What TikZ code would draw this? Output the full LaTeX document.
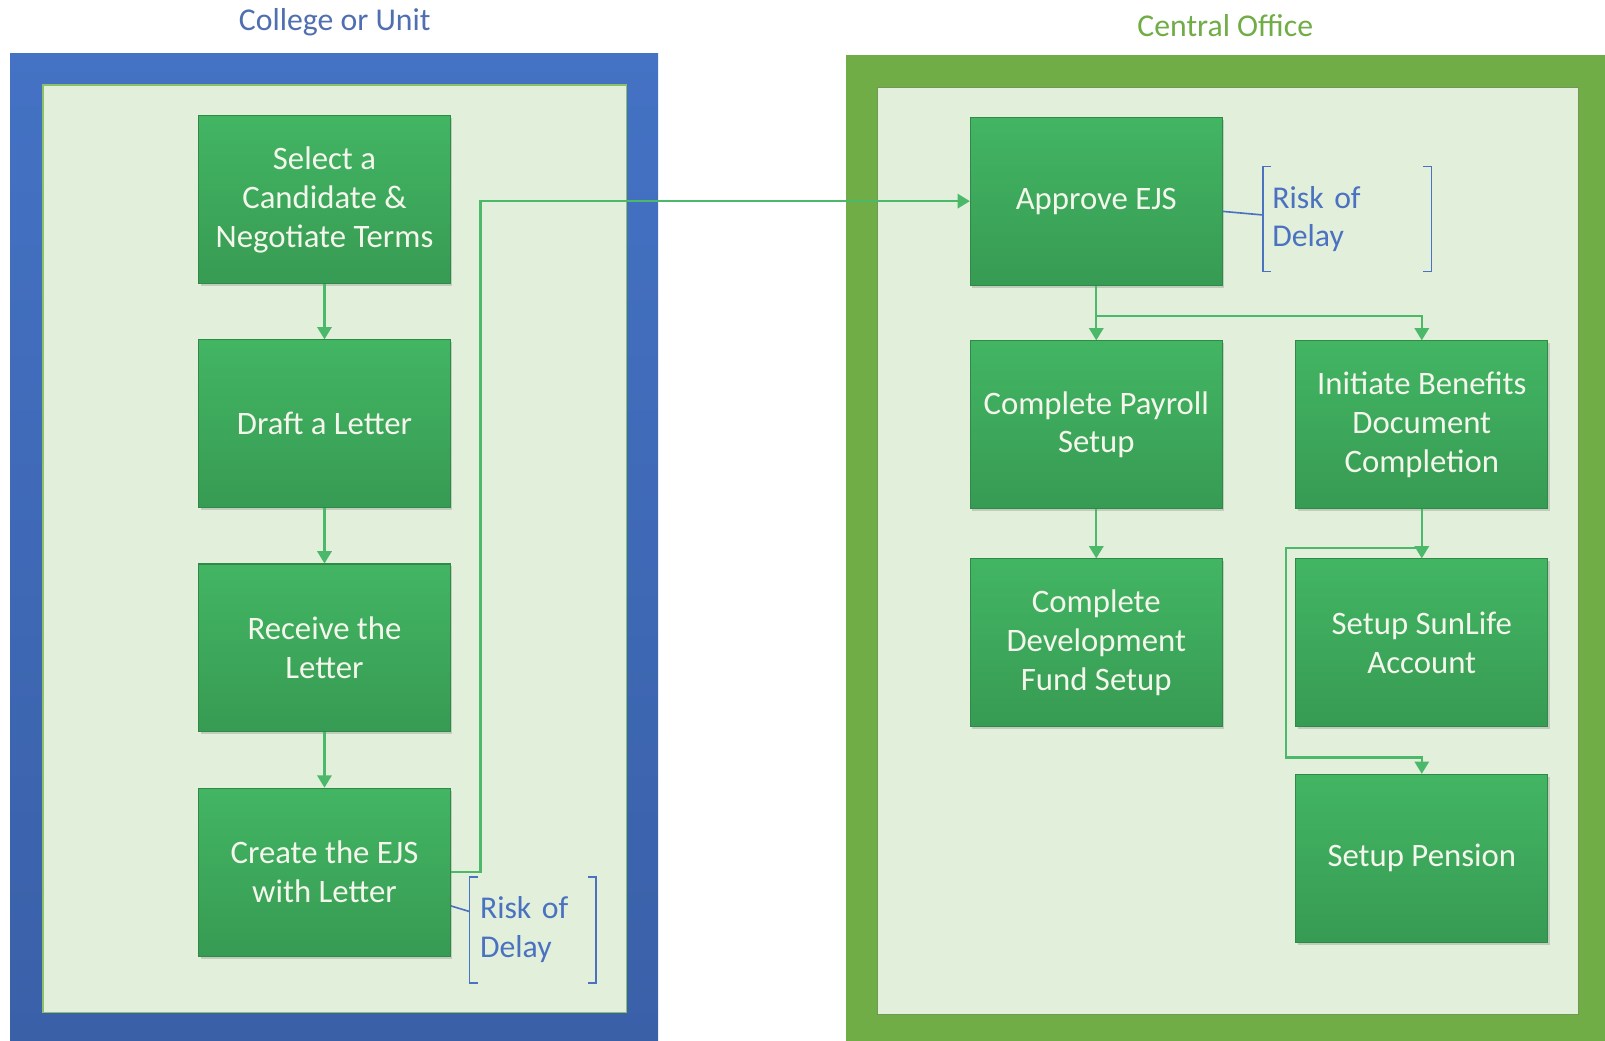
\documentclass[tikz,border=0pt]{standalone}
\usepackage{fontspec}
\setmainfont{Carlito}
\usetikzlibrary{arrows.meta,shadows}
\definecolor{frameblueT}{HTML}{4472C4}
\definecolor{frameblueB}{HTML}{3A60A8}
\definecolor{framegreen}{HTML}{70AD47}
\definecolor{innerbg}{HTML}{E2EFDA}
\definecolor{innerline}{HTML}{8CC168}
\definecolor{boxlight}{HTML}{42B563}
\definecolor{boxdark}{HTML}{379B53}
\definecolor{boxedge}{HTML}{2F8A48}
\definecolor{linegreen}{HTML}{4CB96A}
\definecolor{riskblue}{HTML}{4A72C0}
\definecolor{titleblue}{HTML}{4F6FB0}
\definecolor{boxtext}{HTML}{F4F6EC}
\begin{document}
\begin{tikzpicture}[x=0.5pt,y=-0.5pt,
  stepbox/.style={rectangle, minimum width=123pt, minimum height=82pt, inner sep=0pt,
    align=center, text=boxtext, font=\fontsize{16}{19}\selectfont,
    top color=boxlight, bottom color=boxdark, draw=boxedge, line width=0.5pt,
    drop shadow={shadow xshift=1pt, shadow yshift=-1.2pt, opacity=0.25, fill=black!60}},
  flow/.style={draw=linegreen, line width=1.1pt, -{Triangle[width=7pt,length=6pt]}},
  bracketline/.style={draw=riskblue, line width=0.8pt},
  riskbox/.style={rectangle, inner sep=0pt, align=left, text=riskblue,
    font=\fontsize{15.5}{19}\selectfont},
  title/.style={font=\fontsize{15.5}{18}\selectfont}
]
\useasboundingbox (0,0) rectangle (1568,1017);
\fill[white] (0,0) rectangle (1568,1017);

% frames
\fill[top color=frameblueT, bottom color=frameblueB] (10,52) rectangle (643,1017);
\filldraw[fill=innerbg, draw=innerline, line width=0.6pt] (42,83) rectangle (612,989);
\fill[framegreen] (826,54) rectangle (1568,1017);
\filldraw[fill=innerbg, draw=innerline!80!black, line width=0.4pt] (857,85) rectangle (1542,991);

% titles
\node[title, text=titleblue] (t1) at (327,22) {College or Unit};
\node[title, text=framegreen] (t2) at (1197,25) {Central Office};

% left column
\node[stepbox] (b1) at (317,195) {Select a\\Candidate \&\\Negotiate Terms};
\node[stepbox] (b2) at (317,414) {Draft a Letter};
\node[stepbox] (b3) at (317,633) {Receive the\\Letter};
\node[stepbox] (b4) at (317,852) {Create the EJS\\with Letter};

% right column
\node[stepbox] (approve) at (1071,196.5) {Approve EJS};
\node[stepbox] (payroll) at (1071,415) {Complete Payroll\\Setup};
\node[stepbox] (initiate) at (1389,415) {Initiate Benefits\\Document\\Completion};
\node[stepbox] (devfund) at (1071,628) {Complete\\Development\\Fund Setup};
\node[stepbox] (sunlife) at (1389,628) {Setup SunLife\\Account};
\node[stepbox] (pension) at (1389,838.5) {Setup Pension};

% risk notes
\node[riskbox, minimum width=61.5pt, minimum height=51.5pt, text width=51.5pt, inner xsep=5pt] (risk1) at (520.5,908.5) {Risk of\\Delay};
\node[riskbox, minimum width=82pt, minimum height=51pt, text width=73pt, inner xsep=4.5pt] (risk2) at (1316,214) {Risk of\\Delay};

\draw[bracketline] ([xshift=4pt]risk1.north west) -- (risk1.north west) -- (risk1.south west) -- ++(4pt,0);
\draw[bracketline] ([xshift=-4pt]risk1.north east) -- (risk1.north east) -- (risk1.south east) -- ++(-4pt,0);
\draw[bracketline] ([xshift=4pt]risk2.north west) -- (risk2.north west) -- (risk2.south west) -- ++(4pt,0);
\draw[bracketline] ([xshift=-4pt]risk2.north east) -- (risk2.north east) -- (risk2.south east) -- ++(-4pt,0);
\draw[bracketline] ([yshift=-16.5pt]b4.east) -- ([yshift=9pt]risk1.west);
\draw[bracketline] ([yshift=-5pt]approve.east) -- ([yshift=2pt]risk2.west);

% connectors
\draw[flow] (b1) -- (b2);
\draw[flow] (b2) -- (b3);
\draw[flow] (b3) -- (b4);
\draw[flow] (b4.east) -- ++(29,0) |- (approve.west);
\draw[flow] (approve) -- (payroll);
\coordinate (br1) at ([yshift=-15pt]approve.south);
\draw[flow] (br1) -| (initiate.north);
\draw[flow] (payroll) -- (devfund);
\draw[flow] (initiate) -- (sunlife);
\coordinate (br2) at ([yshift=5pt]sunlife.north);
\coordinate (br3) at ([yshift=8pt]pension.north);
\draw[flow] (br2) -- ++(-133,0) |- (br3) -- (pension.north);
\end{tikzpicture}
\end{document}
